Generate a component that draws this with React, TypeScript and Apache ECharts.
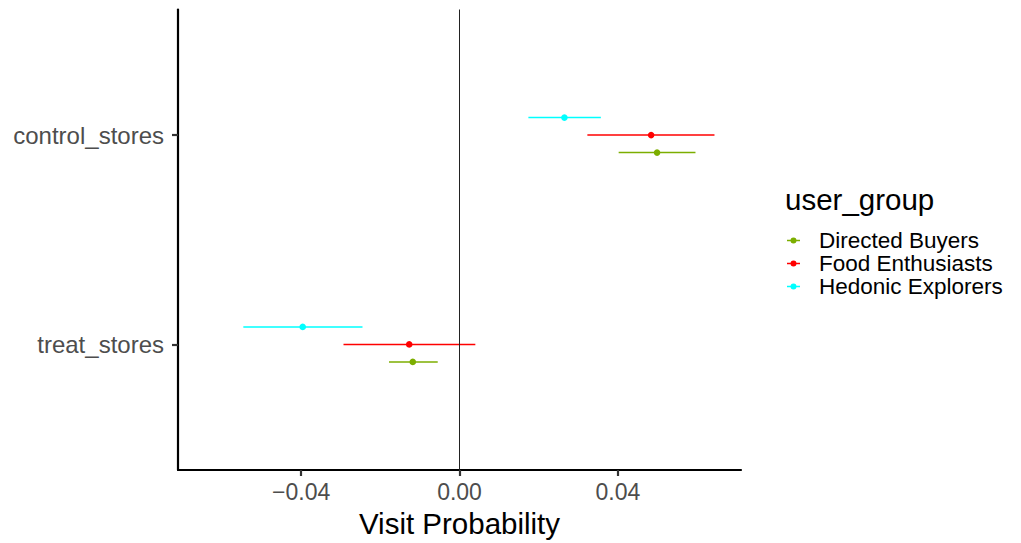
import React, { useEffect, useRef } from "react";
import * as echarts from "echarts";

const categories = ["treat_stores", "control_stores"]; // bottom to top
const groups = ["Directed Buyers", "Food Enthusiasts", "Hedonic Explorers"];
const groupColors = ["#7CAE00", "#FF0000", "#00FFFF"];

// estimates and confidence bounds, indexed like `categories`
const directedEst = [-0.0118, 0.0499];
const directedLo = [-0.0178, 0.0402];
const directedHi = [-0.0055, 0.0596];
const foodEst = [-0.0127, 0.0484];
const foodLo = [-0.0293, 0.0323];
const foodHi = [0.004, 0.0644];
const hedonicEst = [-0.0396, 0.0265];
const hedonicLo = [-0.0546, 0.0174];
const hedonicHi = [-0.0245, 0.0357];

const xTicks = [-0.04, 0, 0.04];
const xTickLabels = ["\u22120.04", "0.00", "0.04"];

const groupData = [
  [directedEst, directedLo, directedHi],
  [foodEst, foodLo, foodHi],
  [hedonicEst, hedonicLo, hedonicHi],
];

const DODGE = 0.0835;
const FONT = "'Liberation Sans', Arial, Helvetica, sans-serif";

export default function App() {
  const ref = useRef<HTMLDivElement>(null);
  useEffect(() => {
    if (!ref.current) return;
    const chart = echarts.init(ref.current, null, { renderer: "svg" });
    const series: any[] = groups.map((name, gi) => {
      const [est, lo, hi] = groupData[gi];
      const color = groupColors[gi];
      const offset = (gi - 1) * DODGE;
      return {
        type: "custom",
        name,
        itemStyle: { color },
        encode: { x: [1, 2, 3], y: 0 },
        data: categories.map((_, ci) => [ci, est[ci], lo[ci], hi[ci]]),
        renderItem: (params: any, api: any) => {
          const yv = api.value(0) + offset;
          const p = api.coord([api.value(1), yv]);
          const l = api.coord([api.value(2), yv]);
          const h = api.coord([api.value(3), yv]);
          return {
            type: "group",
            children: [
              {
                type: "line",
                shape: { x1: l[0], y1: l[1], x2: h[0], y2: h[1] },
                style: { stroke: color, lineWidth: 1.5 },
              },
              {
                type: "circle",
                shape: { cx: p[0], cy: p[1], r: 3.3 },
                style: { fill: color },
              },
            ],
          };
        },
        markLine:
          gi === 0
            ? {
                silent: true,
                symbol: "none",
                label: { show: false },
                lineStyle: { color: "#222", width: 1, type: "solid" },
                data: [{ xAxis: 0 }],
              }
            : undefined,
      };
    });

    chart.setOption({
      animation: false,
      textStyle: { fontFamily: FONT },
      title: {
        text: "user_group",
        left: 785,
        top: 184,
        padding: 0,
        textStyle: { fontFamily: FONT, fontSize: 29.5, fontWeight: "normal", color: "#000" },
      },
      legend: {
        orient: "vertical",
        left: 787,
        top: 229,
        padding: 0,
        itemGap: 0,
        itemWidth: 13,
        itemHeight: 6,
        icon: "path://M0,2.3 L13,2.3 L13,3.7 L0,3.7 Z M6.5,0 A3,3 0 1,1 6.5,6 A3,3 0 1,1 6.5,0 Z",
        data: groups,
        textStyle: {
          fontFamily: FONT,
          fontSize: 22.5,
          lineHeight: 21,
          color: "#000",
          padding: [0, 0, 0, 14],
        },
      },
      grid: { left: 178, right: 280, top: 9.5, bottom: 72.5, containLabel: false },
      xAxis: {
        type: "value",
        min: -0.0711,
        max: 0.0711,
        name: "Visit Probability",
        nameLocation: "middle",
        nameGap: 38,
        nameTextStyle: { fontFamily: FONT, fontSize: 29.5, color: "#000" },
        splitLine: { show: false },
        axisLine: { show: true, onZero: false, lineStyle: { color: "#000", width: 2.2 } },
        axisTick: {
          show: true,
          length: 6,
          customValues: xTicks,
          lineStyle: { color: "#333", width: 2.2 },
        },
        axisLabel: {
          customValues: xTicks,
          margin: 10,
          fontFamily: FONT,
          fontSize: 23,
          color: "#4D4D4D",
          formatter: (v: number) => {
            const i = xTicks.findIndex((t) => Math.abs(t - v) < 1e-9);
            return i >= 0 ? xTickLabels[i] : "";
          },
        },
      },
      yAxis: {
        type: "value",
        min: -0.6,
        max: 1.6,
        splitLine: { show: false },
        axisLine: { show: true, onZero: false, lineStyle: { color: "#000", width: 2.2 } },
        axisTick: {
          show: true,
          length: 6,
          customValues: categories.map((_, i) => i),
          lineStyle: { color: "#333", width: 2.2 },
        },
        axisLabel: {
          customValues: categories.map((_, i) => i),
          margin: 14,
          fontFamily: FONT,
          fontSize: 24,
          color: "#4D4D4D",
          formatter: (v: number) => categories[Math.round(v)] ?? "",
        },
      },
      series,
    });
    return () => chart.dispose();
  }, []);
  return (
    <div
      ref={ref}
      style={{ position: "absolute", left: 0, top: 0, width: 1021, height: 543, background: "#fff" }}
    />
  );
}
